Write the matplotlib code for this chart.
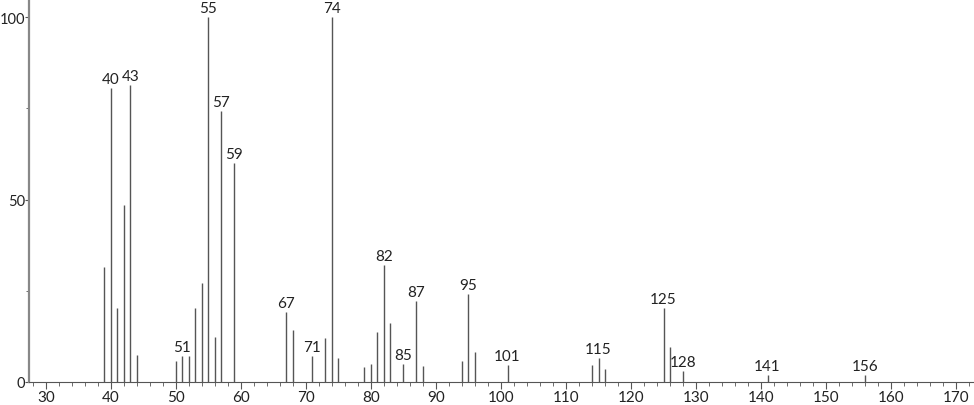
import matplotlib.pyplot as plt
from matplotlib.ticker import MultipleLocator

# m/z and relative intensity
mz = [39, 40, 41, 42, 43, 44, 50, 51, 52, 53, 54, 55, 56, 57, 59,
      67, 68, 71, 73, 74, 75, 79, 80, 81, 82, 83, 85, 87, 88, 94, 95, 96,
      101, 114, 115, 116, 125, 126, 128, 141, 156]
intensity = [31.6, 80.6, 20.2, 48.5, 81.5, 7.3, 5.7, 7.2, 7.2, 20.2, 27.1, 100, 12.3, 74.4, 60.0,
             19.3, 14.3, 7.2, 12.0, 100, 6.6, 4.0, 4.9, 13.6, 32.1, 16.1, 4.9, 22.1, 4.4, 5.8, 24.1, 8.1,
             4.7, 4.7, 6.6, 3.6, 20.2, 9.5, 2.9, 2.0, 2.0]
labelled = [40, 43, 51, 55, 57, 59, 67, 71, 74, 82, 85, 87, 95, 101, 115, 125, 128, 141, 156]

plt.rcParams['font.family'] = ['Lato', 'DejaVu Sans']

fig = plt.figure(figsize=(9.74, 4.06), dpi=100)
ax = fig.add_axes([29 / 974, 23 / 406, 944 / 974, 383 / 406])

ax.vlines(mz, 0, intensity, colors='#555555', linewidth=1.0)
for m, v in zip(mz, intensity):
    if m in labelled:
        ax.annotate(str(m), (m, v), xytext=(0, 1.5), textcoords='offset points',
                    ha='center', va='bottom', fontsize=11, color='#222222')

ax.set_xlim(27.4, 172.6)
ax.set_ylim(0, 105)
ax.xaxis.set_major_locator(MultipleLocator(10))
ax.xaxis.set_minor_locator(MultipleLocator(2))
ax.yaxis.set_major_locator(MultipleLocator(50))
ax.yaxis.set_minor_locator(MultipleLocator(25))

for s in ['top', 'right']:
    ax.spines[s].set_visible(False)
ax.spines['left'].set_color('#888888')
ax.spines['left'].set_linewidth(1.6)
ax.spines['bottom'].set_color('#555555')
ax.spines['bottom'].set_linewidth(0.8)

ax.tick_params(axis='x', which='major', length=5, width=0.8, color='#555555',
               labelsize=11, labelcolor='#222222', pad=1)
ax.tick_params(axis='y', which='major', length=3, width=0.8, color='#555555',
               labelsize=10.5, labelcolor='#222222', pad=0)
ax.tick_params(axis='x', which='minor', length=3, width=0.6, color='#555555')
ax.tick_params(axis='y', which='minor', length=2, width=0.6, color='#555555')

fig.savefig('out.png', dpi=100)
